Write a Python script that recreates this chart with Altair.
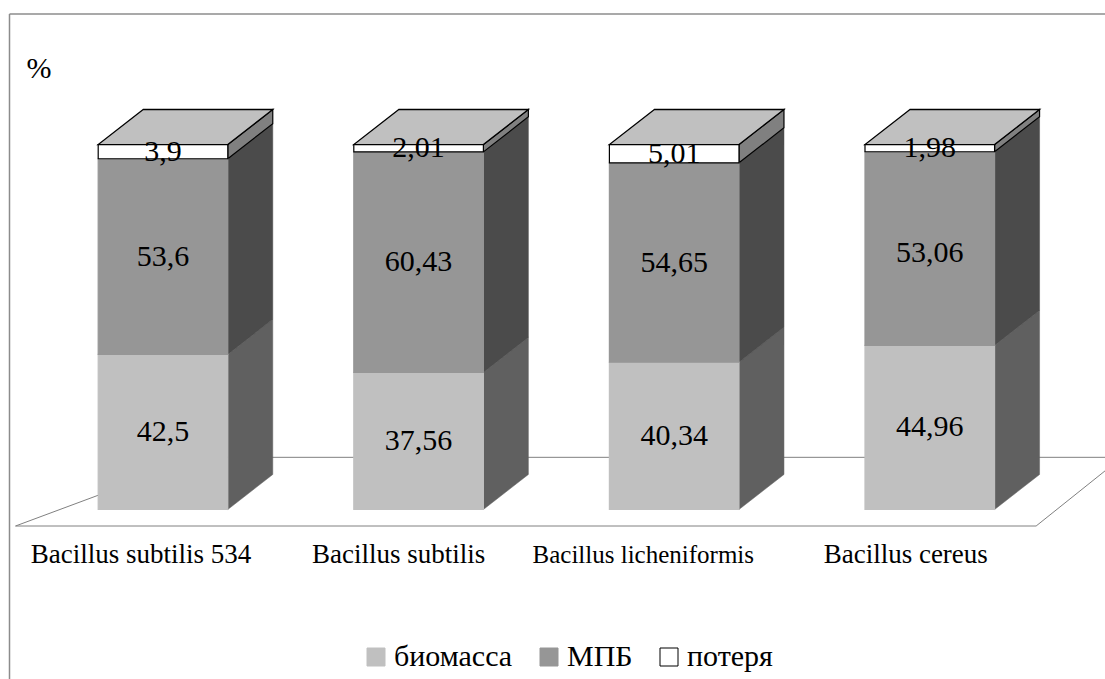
import altair as alt
import pandas as pd

# Chart values
strains = ["Bacillus subtilis 534", "Bacillus subtilis", "Bacillus licheniformis", "Bacillus cereus"]
series = ["биомасса", "МПБ", "потеря"]
biomass = [42.5, 37.56, 40.34, 44.96]
broth = [53.6, 60.43, 54.65, 53.06]
loss = [3.9, 2.01, 5.01, 1.98]
value_text = {
    "биомасса": ["42,5", "37,56", "40,34", "44,96"],
    "МПБ": ["53,6", "60,43", "54,65", "53,06"],
    "потеря": ["3,9", "2,01", "5,01", "1,98"],
}

# Styling per series: front and side faces
front_fill = ["#C0C0C0", "#969696", "#FFFFFF"]
front_line = ["#C0C0C0", "#969696", "#000000"]
side_fill = ["#606060", "#4B4B4B", "#808080"]
FONT = "Liberation Serif"

# Geometry in scale units (strain index on x, percent on y)
half_w = 0.2535
depth_x = 0.176
depth_y = 9.6
x_domain = [-0.6377, 3.6855]
y_domain = [-46.44, 139.6]
label_pos = [-0.086, -0.078, -0.121, -0.094]
label_size = [27, 27, 25, 27]
label_level = -12.6
value_nudge = {("МПБ", 3): -1.3}

x_scale = alt.Scale(domain=x_domain, range=[0, 1105], nice=False, zero=False)
y_scale = alt.Scale(domain=y_domain, range=[679, 0], nice=False, zero=False)
X = alt.X("x:Q", scale=x_scale, axis=None)
Y = alt.Y("y:Q", scale=y_scale, axis=None)

columns = [biomass, broth, loss]
front_rows, text_rows, top_rows = [], [], []
side_rows = {s: [] for s in series}
for i, strain in enumerate(strains):
    base = 0.0
    for s, col in zip(series, columns):
        v = col[i]
        left, right = i - half_w, i + half_w
        front_rows.append(dict(series=s, x=left, x2=right, y=base, y2=base + v))
        text_rows.append(dict(x=i, y=base + v / 2 + value_nudge.get((s, i), 0), label=value_text[s][i]))
        side_rows[s].append(dict(bar=strain, x=right, y=base + v, y2=base))
        side_rows[s].append(dict(bar=strain, x=right + depth_x, y=base + v + depth_y, y2=base + depth_y))
        base += v
    top_rows.append(dict(bar=strain, x=i - half_w, x2=i + half_w, y=base))
    top_rows.append(dict(bar=strain, x=i - half_w + depth_x, x2=i + half_w + depth_x, y=base + depth_y))

# Floor of the 3D box, drawn as a closed outline behind the columns
floor = pd.DataFrame(
    dict(
        x=[0.1455, -0.577, 3.416, 3.752],
        y=[14.3, -4.52, -4.52, 14.3],
        step=[0, 1, 2, 3],
    )
)
floor_back = pd.DataFrame(dict(x=[0.1455, 3.752], y=[14.3, 14.3]))

floor_line = alt.Chart(floor).mark_line(color="#808080", strokeWidth=1, clip=True).encode(x=X, y=Y, order="step:Q")
floor_rear = alt.Chart(floor_back).mark_line(color="#808080", strokeWidth=1, clip=True).encode(x=X, y=Y)

# Chart frame: only the top and left edges fall inside the page
frame_top = alt.Chart(pd.DataFrame({"a": [0]})).mark_rule(color="#8C8C8C", strokeWidth=1.5).encode(
    x=alt.value(9.5), x2=alt.value(1105), y=alt.value(14)
)
frame_left = alt.Chart(pd.DataFrame({"a": [0]})).mark_rule(color="#8C8C8C", strokeWidth=1.5).encode(
    x=alt.value(9.5), y=alt.value(14), y2=alt.value(679)
)

sides = []
for s, fill in zip(series, side_fill):
    is_loss = s == series[-1]
    mark = alt.Chart(pd.DataFrame(side_rows[s])).mark_area(
        fill=fill,
        stroke="#000000" if is_loss else fill,
        strokeWidth=1.2 if is_loss else 0.5,
    ).encode(x=X, y=Y, y2="y2:Q", detail="bar:N")
    sides.append(mark)

tops = alt.Chart(pd.DataFrame(top_rows)).mark_area(
    orient="horizontal", fill="#C0C0C0", stroke="#000000", strokeWidth=1.3
).encode(x=X, x2="x2:Q", y=Y, detail="bar:N")

legend = alt.Legend(
    title=None,
    orient="none",
    legendX=361,
    legendY=642,
    columns=3,
    columnPadding=21,
    labelFont=FONT,
    labelFontSize=30,
    labelColor="#000000",
    labelOffset=3,
    labelLimit=300,
    symbolType="square",
    symbolSize=324,
    symbolStrokeWidth=1,
    padding=0,
)
fronts = alt.Chart(pd.DataFrame(front_rows)).mark_rect(strokeWidth=1.2).encode(
    x=X,
    x2="x2:Q",
    y=Y,
    y2="y2:Q",
    fill=alt.Fill("series:N", scale=alt.Scale(domain=series, range=front_fill), legend=legend),
    stroke=alt.Stroke("series:N", scale=alt.Scale(domain=series, range=front_line), legend=legend),
)

values = alt.Chart(pd.DataFrame(text_rows)).mark_text(
    font=FONT, fontSize=30, color="#000000", baseline="middle", align="center"
).encode(x=X, y=Y, text="label:N")

axis_labels = alt.Chart(
    pd.DataFrame(
        dict(
            x=[i + d for i, d in enumerate(label_pos)],
            y=[label_level] * 4,
            label=strains,
            px=label_size,
        )
    )
).mark_text(font=FONT, color="#000000", baseline="middle", align="center").encode(
    x=X, y=Y, text="label:N", size=alt.Size("px:Q", scale=None, legend=None)
)

unit = alt.Chart(pd.DataFrame({"label": ["%"]})).mark_text(
    font=FONT, fontSize=30, color="#000000", baseline="middle", align="center"
).encode(x=alt.value(39), y=alt.value(69), text="label:N")

chart = (
    alt.layer(frame_top, frame_left, floor_line, floor_rear, *sides, tops, fronts, values, axis_labels, unit)
    .properties(width=1105, height=679, padding=0, autosize=alt.AutoSizeParams(type="none"), background="#FFFFFF")
    .configure_view(stroke=None)
)

chart.save("out.html", embed_options={"renderer": "svg", "actions": False})
